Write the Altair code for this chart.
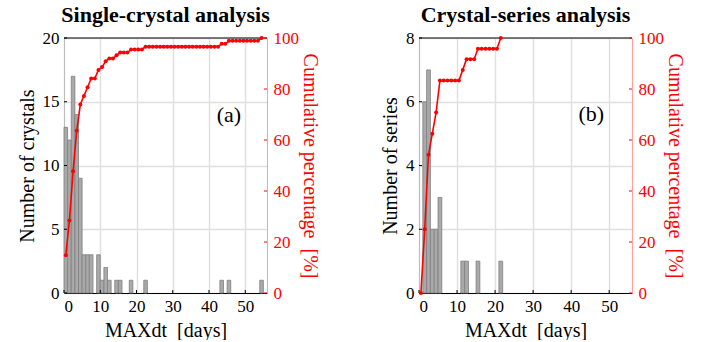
import altair as alt
import pandas as pd

FONT = "Liberation Serif"
H = 255

# ---------- panel (a): single-crystal analysis ----------
a_bin_start = [0, 1, 2, 3, 4, 5, 6, 7, 9, 10, 11, 12, 14, 15, 18, 22, 43, 45, 54]
a_bin_end = [1, 2, 3, 4, 5, 6, 7, 8, 10, 11, 12, 13, 15, 16, 19, 23, 44, 46, 55]
a_counts = [13, 12, 17, 14, 9, 3, 3, 3, 3, 1, 2, 1, 1, 1, 1, 1, 1, 1, 1]
a_cum_days = [0.5, 1.5, 2.5, 3.5, 4.5, 5.5, 6.5, 7.5, 8.5, 9.5, 10.5, 11.5, 12.5, 13.5,
              14.5, 15.5, 16.5, 17.5, 18.5, 19.5, 20.5, 21.5, 22.5, 23.5, 24.5, 25.5,
              26.5, 27.5, 28.5, 29.5, 30.5, 31.5, 32.5, 33.5, 34.5, 35.5, 36.5, 37.5,
              38.5, 39.5, 40.5, 41.5, 42.5, 43.5, 44.5, 45.5, 46.5, 47.5, 48.5, 49.5,
              50.5, 51.5, 52.5, 53.5, 54.5]
a_cum_pct = [14.8, 28.4, 47.7, 63.6, 73.9, 77.3, 80.7, 84.1, 84.1, 87.5, 88.6, 90.9, 92.0,
             92.0, 93.2, 94.3, 94.3, 94.3, 95.5, 95.5, 95.5, 95.5, 96.6, 96.6, 96.6, 96.6,
             96.6, 96.6, 96.6, 96.6, 96.6, 96.6, 96.6, 96.6, 96.6, 96.6, 96.6, 96.6,
             96.6, 96.6, 96.6, 96.6, 96.6, 97.7, 97.7, 98.9, 98.9, 98.9, 98.9, 98.9,
             98.9, 98.9, 98.9, 98.9, 100.0]
a_yticks = [0, 5, 10, 15, 20]

# ---------- panel (b): crystal-series analysis ----------
b_bin_start = [1, 2, 3, 4, 5, 11, 12, 15, 21]
b_bin_end = [2, 3, 4, 5, 6, 12, 13, 16, 22]
b_counts = [6, 7, 2, 2, 3, 1, 1, 1, 1]
b_cum_days = [0.5, 1.5, 2.5, 3.5, 4.5, 5.5, 6.5, 7.5, 8.5, 9.5, 10.5, 11.5, 12.5, 13.5,
              14.5, 15.5, 16.5, 17.5, 18.5, 19.5, 20.5, 21.5]
b_cum_pct = [0.0, 25.0, 54.2, 62.5, 70.8, 83.3, 83.3, 83.3, 83.3, 83.3, 83.3, 87.5, 91.7,
             91.7, 91.7, 95.8, 95.8, 95.8, 95.8, 95.8, 95.8, 100.0]
b_yticks = [0, 2, 4, 6, 8]

x_ticks = [0, 10, 20, 30, 40, 50]
pct_ticks = [0, 20, 40, 60, 80, 100]

AX = dict(labelFont=FONT, titleFont=FONT, labelFontSize=17, titleFontSize=20,
          titleFontWeight="normal", ticks=False, offset=0)


def panel(bin_start, bin_end, counts, cum_days, cum_pct, ymax, yvals, ytitle,
          title, tag, tag_x, tag_y, width):
    bars_df = pd.DataFrame({"start": bin_start, "end": bin_end, "count": counts})
    cum_df = pd.DataFrame({"day": cum_days, "pct": cum_pct})
    tag_df = pd.DataFrame({"day": [tag_x], "count": [tag_y], "label": [tag]})
    xt_df = pd.DataFrame({"day": x_ticks})
    yt_df = pd.DataFrame({"count": yvals})
    pt_df = pd.DataFrame({"pct": pct_ticks})

    xscale = alt.Scale(domain=[0, 56], nice=False, zero=False, padding=0)
    xaxis = alt.Axis(values=x_ticks, title="MAXdt\u00a0\u00a0[days]", grid=True,
                     gridColor="#e0e0e0", gridWidth=1.5, labelColor="black",
                     titleColor="black", domainColor="black", domainWidth=1.2,
                     labelPadding=5, titlePadding=6, **AX)
    yscale = alt.Scale(domain=[0, ymax], nice=False, padding=0)
    yaxis = alt.Axis(values=yvals, title=ytitle, grid=True, gridColor="#e0e0e0",
                     gridWidth=1.5, labelColor="black", titleColor="black",
                     domainColor="#bdbdbd", labelPadding=5, titlePadding=5, **AX)
    pscale = alt.Scale(domain=[0, 100], nice=False, padding=0)
    paxis = alt.Axis(orient="right", values=pct_ticks,
                     title="Cumulative percentage\u00a0\u00a0[%]", grid=False,
                     domainColor="#ff9f9f", labelColor="red", titleColor="red",
                     labelPadding=6, titlePadding=1, **AX)

    bars = alt.Chart(bars_df).mark_bar(color="#a9a9a9", stroke="#808080",
                                       strokeWidth=0.8, orient="vertical").encode(
        x=alt.X("start:Q", scale=xscale, axis=xaxis),
        x2="end:Q",
        y=alt.Y("count:Q", scale=yscale, axis=yaxis),
        y2=alt.datum(0),
    )
    yticks = alt.Chart(yt_df).mark_rule(color="black", strokeWidth=1).encode(
        y=alt.Y("count:Q", scale=yscale, axis=yaxis),
        x=alt.value(0), x2=alt.value(3),
    )
    xticks = alt.Chart(xt_df).mark_rule(color="black", strokeWidth=1).encode(
        x=alt.X("day:Q", scale=xscale, axis=xaxis),
        y=alt.value(H), y2=alt.value(H - 3),
    )
    tag_text = alt.Chart(tag_df).mark_text(font=FONT, fontSize=22,
                                           color="black").encode(
        x=alt.X("day:Q", scale=xscale, axis=xaxis),
        y=alt.Y("count:Q", scale=yscale, axis=yaxis),
        text="label:N",
    )
    border = alt.Chart(tag_df).mark_rule(color="black", strokeWidth=1.2).encode(
        x=alt.value(0), x2=alt.value(width), y=alt.value(0),
    )
    left_group = alt.layer(bars, yticks, xticks, tag_text, border)

    line = alt.Chart(cum_df).mark_line(
        color="#ff0000", strokeWidth=1.6,
        point=alt.OverlayMarkDef(filled=True, color="#ff0000", size=16),
    ).encode(
        x=alt.X("day:Q", scale=xscale, axis=xaxis),
        y=alt.Y("pct:Q", scale=pscale, axis=paxis),
    )
    pticks = alt.Chart(pt_df).mark_rule(color="red", strokeWidth=1).encode(
        y=alt.Y("pct:Q", scale=pscale, axis=paxis),
        x=alt.value(width - 3), x2=alt.value(width),
    )
    right_group = alt.layer(line, pticks)

    return alt.layer(left_group, right_group).resolve_scale(
        y="independent"
    ).properties(
        width=width, height=H,
        title=alt.Title(title, font=FONT, fontSize=22, fontWeight="bold",
                        anchor="middle", offset=2, color="black"),
    )


pa = panel(a_bin_start, a_bin_end, a_counts, a_cum_days, a_cum_pct, 20, a_yticks,
           "Number of crystals", "Single-crystal analysis", "(a)", 45.5, 14.0, 203)
pb = panel(b_bin_start, b_bin_end, b_counts, b_cum_days, b_cum_pct, 8, b_yticks,
           "Number of series", "Crystal-series analysis", "(b)", 45.3, 5.63, 213)

chart = alt.hconcat(pa, pb, spacing=60).configure(
    padding={"left": 17, "top": 4, "right": 5, "bottom": 0},
    font=FONT,
).configure_view(stroke=None)

chart.save("out.html", embed_options={"renderer": "svg", "actions": False})
